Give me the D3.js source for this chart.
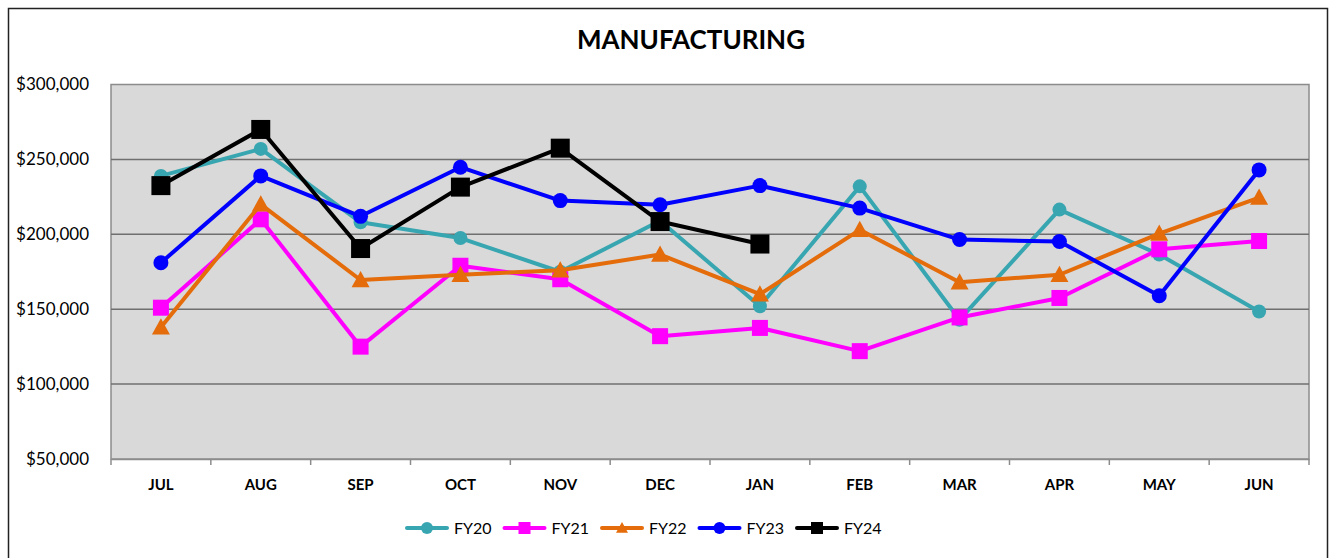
<!DOCTYPE html>
<html>
<head>
<meta charset="utf-8">
<script src="https://cdn.jsdelivr.net/npm/d3@7"></script>
<style>
  body { margin: 0; background: #fff; }
  text { font-family: Lato, "Liberation Sans", sans-serif; }
</style>
</head>
<body>
<script>
var months = ["JUL", "AUG", "SEP", "OCT", "NOV", "DEC", "JAN", "FEB", "MAR", "APR", "MAY", "JUN"];
var fy20 = [239000, 257000, 208000, 197500, 175000, 209000, 152000, 232000, 143000, 216500, 186500, 148500];
var fy21 = [151000, 210000, 125000, 179000, 170000, 132000, 137500, 122000, 144500, 157500, 190000, 195500];
var fy22 = [138000, 220000, 169500, 173000, 176000, 186500, 160000, 203000, 168000, 173000, 200500, 224500];
var fy23 = [181000, 239000, 212000, 244800, 222500, 219700, 232500, 217500, 196500, 195200, 159000, 243000];
var fy24 = [232500, 270000, 190500, 231500, 257500, 208500, 193500, null, null, null, null, null];
var yTicks = [50000, 100000, 150000, 200000, 250000, 300000];

var series = [
  { name: "FY20", values: fy20, color: "#38A6B1", shape: "circle", size: 7 },
  { name: "FY21", values: fy21, color: "#FF00FF", shape: "square", size: 8 },
  { name: "FY22", values: fy22, color: "#E46C0A", shape: "triangle", size: 9 },
  { name: "FY23", values: fy23, color: "#0000FF", shape: "circle", size: 7.5 },
  { name: "FY24", values: fy24, color: "#000000", shape: "square", size: 9.5 }
];

var W = 1331, H = 558;
var plot = { left: 111, right: 1309, top: 84.5, bottom: 459 };

var svg = d3.select("body").append("svg")
  .attr("width", W)
  .attr("height", H);

// outer chart border
svg.append("rect")
  .attr("x", 8.5).attr("y", 8.5)
  .attr("width", 1319).attr("height", 560)
  .attr("fill", "#fff")
  .attr("stroke", "#222").attr("stroke-width", 1.5);

svg.append("text")
  .attr("x", 691).attr("y", 49)
  .attr("text-anchor", "middle")
  .style("font-size", "26px").style("font-weight", "bold")
  .text("MANUFACTURING");

var x = d3.scaleBand().domain(months).range([plot.left, plot.right]);
var y = d3.scaleLinear().domain([50000, 300000]).range([plot.bottom, plot.top]);

svg.append("rect")
  .attr("x", plot.left).attr("y", plot.top)
  .attr("width", plot.right - plot.left).attr("height", plot.bottom - plot.top)
  .attr("fill", "#D9D9D9")
  .attr("stroke", "#8c8c8c").attr("stroke-width", 1.5);

// gridlines
svg.selectAll(".grid")
  .data(yTicks.slice(1, -1))
  .enter().append("line")
  .attr("x1", plot.left).attr("x2", plot.right)
  .attr("y1", function (d) { return y(d); })
  .attr("y2", function (d) { return y(d); })
  .attr("stroke", "#6f6f6f").attr("stroke-width", 1.5);

// y axis
var yAxis = svg.append("g")
  .attr("transform", "translate(" + plot.left + ",0)")
  .call(d3.axisLeft(y).tickValues(yTicks).tickSize(0).tickPadding(22)
    .tickFormat(function (d) { return "$" + d3.format(",")(d); }));
yAxis.select(".domain").remove();
yAxis.selectAll("text")
  .style("font-size", "17px").attr("fill", "#000")
  .style("font-family", "Lato, sans-serif");

// x axis
var xAxis = svg.append("g")
  .attr("transform", "translate(0," + plot.bottom + ")")
  .call(d3.axisBottom(x).tickSize(0).tickPadding(20));
xAxis.select(".domain").attr("stroke", "#8c8c8c").attr("stroke-width", 1.5);
xAxis.selectAll("text")
  .style("font-size", "15px").style("font-weight", "bold").attr("fill", "#000")
  .style("font-family", "Lato, sans-serif");

var bounds = months.map(function (m) { return x(m); }).concat([plot.right]);
svg.selectAll(".xtick")
  .data(bounds)
  .enter().append("line")
  .attr("x1", function (d) { return d; }).attr("x2", function (d) { return d; })
  .attr("y1", plot.bottom).attr("y2", plot.bottom + 6)
  .attr("stroke", "#8c8c8c").attr("stroke-width", 1.5);

function cx(i) { return x(months[i]) + x.bandwidth() / 2; }

function drawMarker(g, shape, size, color, px, py) {
  if (shape === "circle") {
    g.append("circle").attr("cx", px).attr("cy", py).attr("r", size).attr("fill", color);
  } else if (shape === "square") {
    g.append("rect").attr("x", px - size).attr("y", py - size)
      .attr("width", size * 2).attr("height", size * 2).attr("fill", color);
  } else {
    var s = size;
    g.append("path")
      .attr("d", "M" + px + "," + (py - s) + "L" + (px + s) + "," + (py + s * 0.8) + "L" + (px - s) + "," + (py + s * 0.8) + "Z")
      .attr("fill", color);
  }
}

var line = d3.line()
  .defined(function (d) { return d != null; })
  .x(function (d, i) { return cx(i); })
  .y(function (d) { return y(d); });

series.forEach(function (s) {
  var g = svg.append("g");
  g.append("path")
    .attr("d", line(s.values))
    .attr("fill", "none")
    .attr("stroke", s.color)
    .attr("stroke-width", 4)
    .attr("stroke-linejoin", "round");
  s.values.forEach(function (v, i) {
    if (v == null) return;
    drawMarker(g, s.shape, s.size, s.color, cx(i), y(v));
  });
});

// legend
var legend = svg.append("g");
series.forEach(function (s, i) {
  var lx = 407 + i * 97.5, ly = 528;
  var g = legend.append("g");
  g.append("line")
    .attr("x1", lx).attr("x2", lx + 40)
    .attr("y1", ly).attr("y2", ly)
    .attr("stroke", s.color).attr("stroke-width", 4).attr("stroke-linecap", "round");
  drawMarker(g, s.shape, 6, s.color, lx + 20, ly);
  g.append("text")
    .attr("x", lx + 47).attr("y", ly + 6)
    .style("font-size", "16px")
    .text(s.name);
});
</script>
</body>
</html>
